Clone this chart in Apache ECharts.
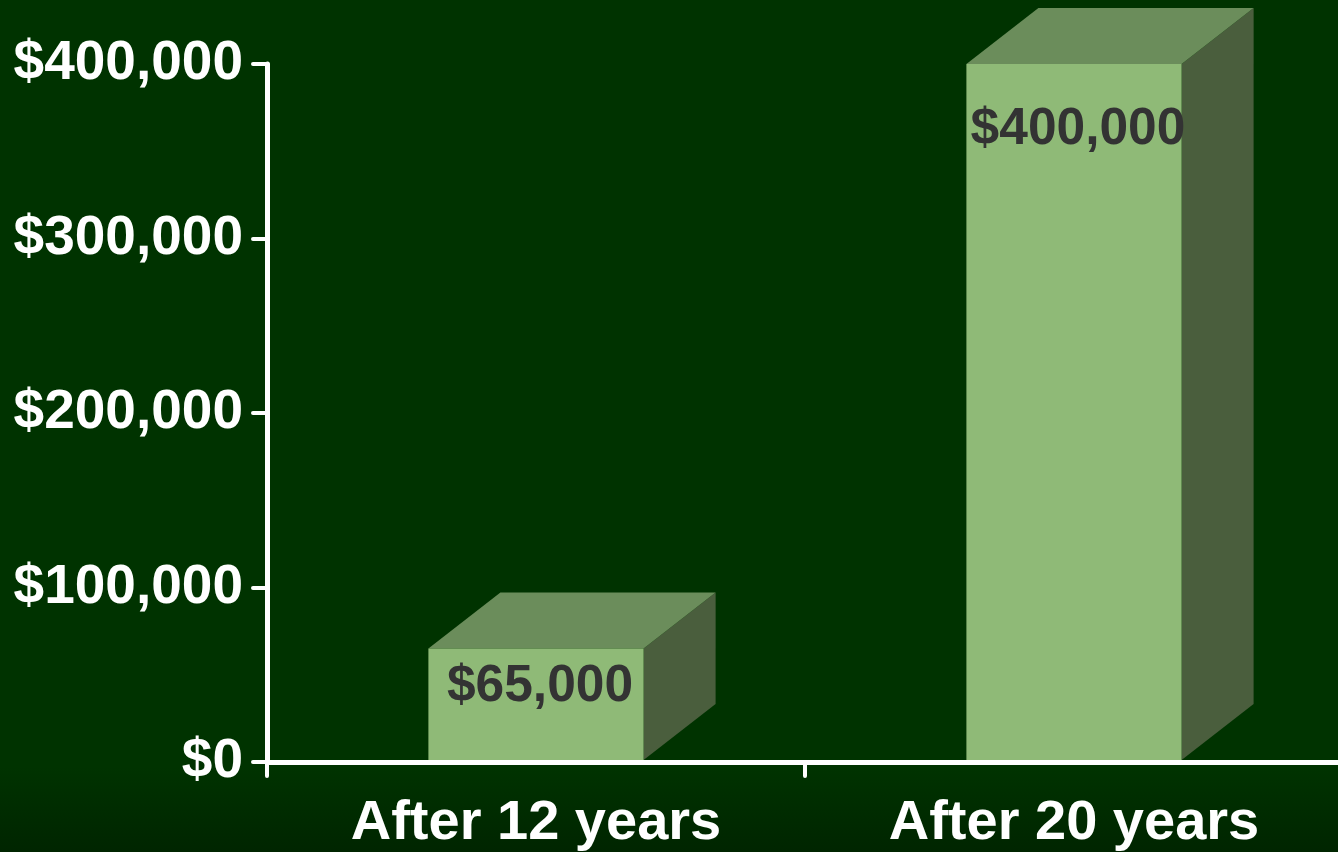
<!DOCTYPE html>
<html>
<head>
<meta charset="utf-8">
<script src="https://cdn.jsdelivr.net/npm/echarts@6/dist/echarts.min.js"></script>
<style>
* { margin: 0; padding: 0; }
html, body { width: 1338px; height: 852px; background: #003300; overflow: hidden; }
#main { width: 1338px; height: 852px; }
</style>
</head>
<body>
<div id="main"></div>
<script>
// chart data
const categories = ['After 12 years', 'After 20 years'];
const values = [65000, 400000];
const yTicks = [0, 100000, 200000, 300000, 400000];

const money = v => '$' + Number(v).toLocaleString('en-US');
const FONT = '"Liberation Sans", Arial, sans-serif';

// 3d box look
const depthX = 72, depthY = -56;
const labelDrop = [38, 66]; // how far the value text sits under the front top edge

function renderBox(params, api) {
  const idx = api.value(0);
  const val = api.value(1);
  const top = api.coord([idx, val]);
  const base = api.coord([idx, 0]);
  const w = api.size([1, 0])[0] * 0.4;
  const x0 = top[0] - w / 2, x1 = top[0] + w / 2;
  const y0 = top[1], y1 = base[1] - 2;
  return {
    type: 'group',
    children: [
      {
        type: 'polygon',
        shape: { points: [[x1, y0], [x1 + depthX, y0 + depthY], [x1 + depthX, y1 + depthY], [x1, y1]] },
        style: { fill: '#4a5e3d' }
      },
      {
        type: 'polygon',
        shape: { points: [[x0, y0], [x0 + depthX, y0 + depthY], [x1 + depthX, y0 + depthY], [x1, y0]] },
        style: { fill: '#6b8d5b' }
      },
      {
        type: 'rect',
        shape: { x: x0, y: y0, width: w, height: y1 - y0 },
        style: { fill: '#8fba77' }
      },
      {
        type: 'text',
        x: top[0] + 4,
        y: y0 + labelDrop[params.dataIndex],
        style: {
          text: money(val),
          fill: '#333333',
          font: 'bold 51.5px ' + FONT,
          align: 'center',
          verticalAlign: 'middle'
        }
      }
    ]
  };
}

const chart = echarts.init(document.getElementById('main'));
chart.setOption({
  backgroundColor: {
    type: 'linear', x: 0, y: 0, x2: 0, y2: 1,
    colorStops: [
      { offset: 0, color: '#003300' },
      { offset: 0.9, color: '#003300' },
      { offset: 1, color: '#002500' }
    ]
  },
  animation: false,
  grid: { left: 267, width: 1076, top: 64, bottom: 90, containLabel: false, outerBoundsMode: 'none' },
  xAxis: {
    type: 'category',
    data: categories,
    z: 5,
    axisLine: { lineStyle: { color: '#ffffff', width: 5 } },
    axisTick: { show: true, length: 14, lineStyle: { color: '#ffffff', width: 4, cap: 'round' } },
    axisLabel: {
      color: '#ffffff',
      fontFamily: FONT,
      fontWeight: 'bold',
      fontSize: 56,
      margin: 34
    }
  },
  yAxis: {
    type: 'value',
    min: yTicks[0],
    max: yTicks[yTicks.length - 1],
    interval: yTicks[1] - yTicks[0],
    z: 5,
    splitLine: { show: false },
    axisLine: { show: true, lineStyle: { color: '#ffffff', width: 5 } },
    axisTick: { show: true, length: 14, lineStyle: { color: '#ffffff', width: 4, cap: 'round' } },
    axisLabel: {
      color: '#ffffff',
      fontFamily: FONT,
      fontWeight: 'bold',
      fontSize: 55,
      margin: 24,
      formatter: money
    }
  },
  series: [{
    type: 'custom',
    renderItem: renderBox,
    data: values.map((v, i) => [i, v]),
    z: 2
  }]
});
</script>
</body>
</html>
